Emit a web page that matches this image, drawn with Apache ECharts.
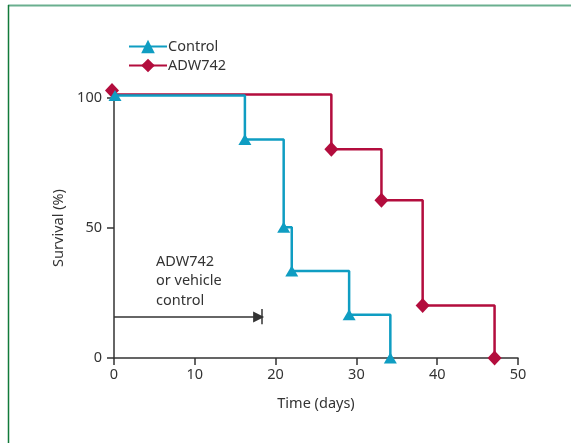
<!DOCTYPE html>
<html><head><meta charset="utf-8">
<script src="https://cdn.jsdelivr.net/npm/echarts@6/dist/echarts.min.js"></script>
<style>html,body{margin:0;padding:0;background:#fff}#c{width:571px;height:443px}</style>
</head><body><div id="c"></div>
<script>
const controlDays = [0, 16.2, 21.0, 22.0, 29.1, 34.2];
const controlSurvival = [101, 84, 50.3, 33.5, 16.6, 0];
const adwDays = [0, 26.9, 33.1, 38.2, 47.1];
const adwSurvival = [101.3, 80.3, 60.7, 20.2, 0];
const xTicks = [0, 10, 20, 30, 40, 50];
const yTicks = [0, 50, 100];
const treatmentEnd = 18.3;
const treatmentLevel = 15.8;

const BLUE = '#0f9dc2', RED = '#b30d3d', INK = '#333333';
const font = '"Noto Sans", sans-serif';

const chart = echarts.init(document.getElementById('c'));
function pts(xs, ys) { return xs.map((x, i) => [x, ys[i]]); }

const adwData = pts(adwDays, adwSurvival).map((p, i) => i === 0 ? {value: p, symbolOffset: [-2, -4]} : p);
const ctlData = pts(controlDays, controlSurvival).map((p, i) => i === 0 ? {value: p, symbolOffset: [1, 0]} : p);

chart.setOption({
  animation: false,
  textStyle: {fontFamily: font},
  grid: {left: 114, right: 53, top: 98, bottom: 85},
  legend: {
    orient: 'vertical', left: 123, top: 34, itemGap: 4,
    itemWidth: 38, itemHeight: 17,
    textStyle: {fontSize: 14.5, color: INK, fontFamily: font, padding: [0, 0, 0, -4]},
    data: ['Control', 'ADW742']
  },
  xAxis: {
    type: 'value', min: 0, max: 50, interval: 10,
    name: 'Time (days)', nameLocation: 'middle', nameGap: 38,
    nameTextStyle: {fontSize: 14.5, color: INK},
    axisLine: {lineStyle: {color: INK, width: 1.5}, onZero: false},
    axisTick: {length: 7, lineStyle: {color: INK, width: 1.5}},
    axisLabel: {fontSize: 14.5, color: INK, margin: 9, customValues: xTicks},
    splitLine: {show: false}
  },
  yAxis: {
    type: 'value', min: 0, max: 100, interval: 50,
    name: 'Survival (%)', nameLocation: 'middle', nameGap: 45,
    nameTextStyle: {fontSize: 14.5, color: INK},
    axisLine: {show: true, lineStyle: {color: INK, width: 1.5}},
    axisTick: {show: true, length: 7, lineStyle: {color: INK, width: 1.5}},
    axisLabel: {fontSize: 14.5, color: INK, margin: 12, customValues: yTicks},
    splitLine: {show: false}
  },
  series: [
    {
      name: 'Control', type: 'line', step: 'end', clip: false,
      data: ctlData,
      symbol: 'triangle', symbolSize: [13, 11],
      lineStyle: {color: BLUE, width: 2.5},
      itemStyle: {color: BLUE},
      z: 3
    },
    {
      name: 'ADW742', type: 'line', step: 'end', clip: false,
      data: adwData,
      symbol: 'diamond', symbolSize: [14, 15],
      lineStyle: {color: RED, width: 2.5},
      itemStyle: {color: RED},
      z: 2
    },
    {
      name: 'treatment', type: 'line', data: [], silent: true,
      markLine: {
        silent: true, animation: false,
        lineStyle: {color: INK, width: 1.5, type: 'solid'},
        label: {show: false},
        symbolSize: [11, 11],
        data: [
          [{coord: [0, treatmentLevel], symbol: 'none'}, {coord: [treatmentEnd - 0.4, treatmentLevel], symbol: 'triangle'}],
          [{coord: [treatmentEnd, treatmentLevel - 2.8], symbol: 'none'}, {coord: [treatmentEnd, treatmentLevel + 3.0], symbol: 'none'}]
        ]
      }
    }
  ],
  graphic: [
    {type: 'line', shape: {x1: 8, y1: 5.5, x2: 571, y2: 5.5}, style: {stroke: '#6aaf8f', lineWidth: 2}},
    {type: 'line', shape: {x1: 8.5, y1: 5, x2: 8.5, y2: 443}, style: {stroke: '#127a3a', lineWidth: 1.5}},
    {type: 'text', left: 156, top: 252, style: {text: 'ADW742\nor vehicle\ncontrol', fontSize: 14.5, lineHeight: 19.5, fill: INK, fontFamily: font}}
  ]
});
</script>
</body></html>
